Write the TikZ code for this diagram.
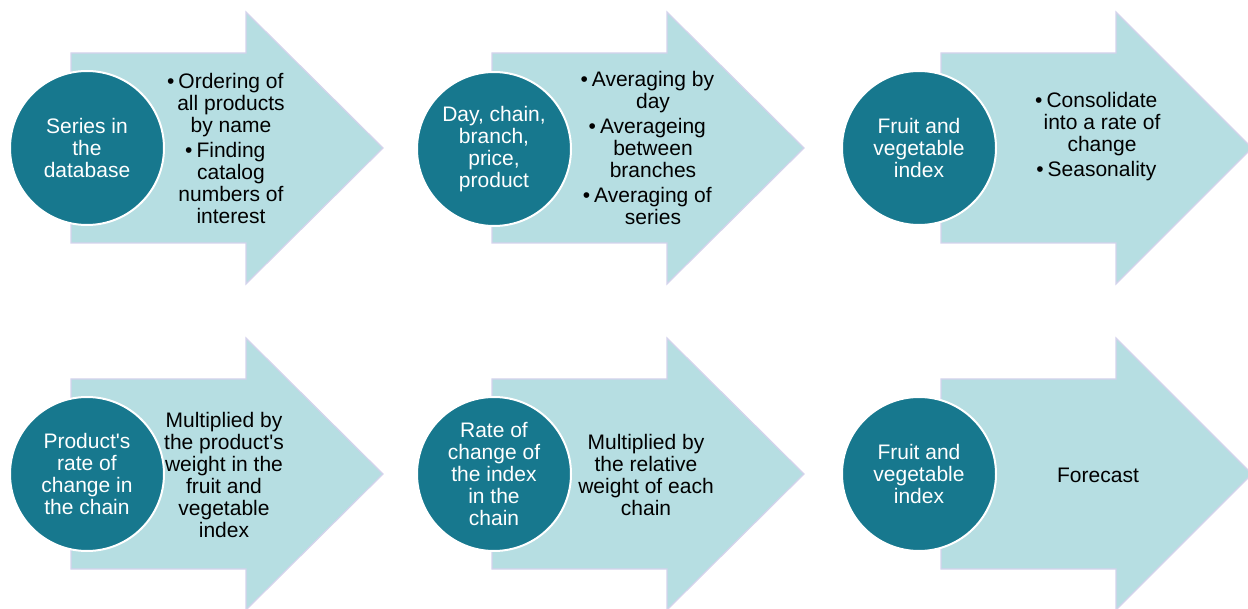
\documentclass[tikz,border=0pt]{standalone}
\usepackage{fontspec}
% a family without TeX ligatures keeps straight apostrophes
\newfontfamily\plainsans{Liberation Sans}
\setmainfont{Liberation Sans}
\definecolor{arrowfill}{HTML}{B6DEE2}
\definecolor{arrowedge}{HTML}{D4D3EC}
\definecolor{discfill}{HTML}{17788E}
\newcommand\txt{\plainsans\fontsize{21}{22}\selectfont}
\newcommand\bul{\llap{\textbullet\hspace{4pt}}}
% block arrow: left x, head base x, tip x, centre y
\newcommand\flowshape[4]{%
  \draw[flowarrow] (#1,{#4-95}) -- (#2,{#4-95}) -- (#2,{#4-136}) -- (#3,#4)
    -- (#2,{#4+136}) -- (#2,{#4+95}) -- (#1,{#4+95}) -- cycle;}
\tikzset{
  flowarrow/.style={fill=arrowfill, draw=arrowedge, line width=1.2pt, line join=miter},
  disc/.style={circle, fill=discfill, draw=white, line width=2pt, minimum size=154pt,
    inner sep=0pt, text=white, align=center, font=\txt},
  stepnote/.style={align=center, font=\txt, text=black, inner sep=0pt},
}
\begin{document}
\begin{tikzpicture}[x=1pt, y=-1pt]
\useasboundingbox (0,0) rectangle (1248,609);

% arrows, top row
\flowshape{71}{246}{383}{148}
\flowshape{492}{667}{804}{148}
\flowshape{941}{1116}{1252}{148}
% arrows, bottom row
\flowshape{71}{246}{383}{474}
\flowshape{492}{667}{804}{474}
\flowshape{941}{1116}{1252}{474}

% discs, top row
\node[disc] (c1) at (87,148) {Series in\\the\\database};
\node[disc] (c2) at (494,149) {Day, chain,\\branch,\\price,\\product};
\node[disc] (c3) at (919,148) {Fruit and\\vegetable\\index};
% discs, bottom row
\node[disc] (c4) at (87,474) {Product's\\rate of\\change in\\the chain};
\node[disc] (c5) at (494,474) {Rate of\\change of\\the index\\in the\\chain};
\node[disc] (c6) at (919,474) {Fruit and\\vegetable\\index};

% notes inside the arrows
\node[stepnote] (t1) at (231,148) {\bul Ordering of\\all products\\by name\\[3pt]
  \bul Finding\\catalog\\numbers of\\interest};
\node[stepnote] (t2) at (653,148) {\bul Averaging by\\day\\[3pt]
  \bul Averageing\\between\\branches\\[3pt] \bul Averaging of\\series};
\node[stepnote] (t3) at (1102,137) {\bul Consolidate\\into a rate of\\change\\[3pt]
  \bul Seasonality};
\node[stepnote] (t4) at (224,475) {Multiplied by\\the product's\\weight in the\\fruit and\\vegetable\\index};
\node[stepnote] (t5) at (646,475) {Multiplied by\\the relative\\weight of each\\chain};
\node[stepnote] (t6) at (1098,475) {Forecast};
\end{tikzpicture}
\end{document}
